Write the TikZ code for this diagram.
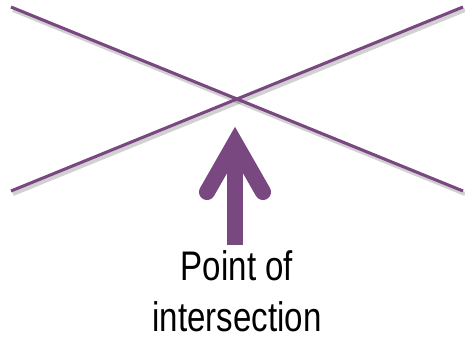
\documentclass[tikz,border=0pt]{standalone}
\usepackage{fontspec}
\newfontfamily\labelfont[FakeStretch=0.8]{Liberation Sans}
\definecolor{plum}{RGB}{122,72,128}
\begin{document}
\begin{tikzpicture}[x=0.75pt,y=-0.75pt,
  xline/.style={draw=plum,line width=2.3pt},
  shadowline/.style={draw=black,opacity=0.18,line width=3pt},
  arrowstroke/.style={draw=plum,line width=12pt},
  lbl/.style={font=\labelfont\fontsize{31pt}{38pt}\selectfont,anchor=base,inner sep=0pt}]
\useasboundingbox (0,0) rectangle (465,340);
% line end points
\coordinate (a1) at (11,7);
\coordinate (a2) at (463,191);
\coordinate (b1) at (11,191);
\coordinate (b2) at (463,7);
% shadows
\draw[shadowline] ([shift={(2,3)}]a1) -- ([shift={(2,3)}]a2);
\draw[shadowline] ([shift={(2,3)}]b1) -- ([shift={(2,3)}]b2);
\draw[xline] (a1) -- (a2);
\draw[xline] (b1) -- (b2);
% arrow
\coordinate (v) at (235,143);
\coordinate (wl) at (207,192);
\coordinate (wr) at (263,192);
\coordinate (sb) at (235,245);
\begin{scope}[shift={(2,3)},opacity=0.15]
\draw[draw=black,line width=12pt,line cap=round,line join=miter] (wl) -- (v) -- (wr);
\draw[draw=black,line width=12pt,line cap=butt] (sb) -- (v);
\end{scope}
\draw[arrowstroke,line cap=round,line join=miter] (wl) -- (v) -- (wr);
\draw[arrowstroke,line cap=butt] (sb) -- (v);
% label
\node[lbl] (l1) at (237,280) {Point of};
\node[lbl] (l2) at (237,331) {intersection};
\end{tikzpicture}
\end{document}
